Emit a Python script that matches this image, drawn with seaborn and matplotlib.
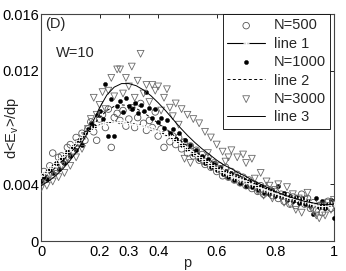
import numpy as np
import pandas as pd
import matplotlib
matplotlib.use("Agg")
import matplotlib.pyplot as plt
import seaborn as sns

# ---------------- data (y values in units of 1e-3) ----------------
p_pts = [round(i * 0.01, 2) for i in range(101)]

n500 = [4.3, 4.9, 4.6, 5.3, 6.2, 5.2, 5.9, 6.0, 5.6, 6.6,
        6.8, 6.3, 7.3, 6.9, 7.6, 7.1, 7.9, 8.4, 7.7, 7.1,
        8.6, 8.9, 8.0, 9.3, 6.6, 8.7, 9.0, 8.5, 9.2, 8.1,
        8.6, 9.4, 8.0, 8.7, 9.7, 8.3, 7.8, 8.5, 8.0, 9.1,
        7.4, 7.9, 6.6, 7.6, 7.0, 7.4, 6.8, 7.3, 6.5, 7.0,
        6.2, 6.7, 6.0, 6.4, 5.7, 6.1, 5.4, 5.9, 5.2, 5.5,
        4.9, 5.3, 4.6, 5.2, 4.5, 4.9, 4.3, 4.7, 4.1, 4.5,
        3.9, 4.3, 3.7, 4.0, 3.5, 3.9, 3.3, 3.7, 3.6, 3.2,
        3.5, 3.0, 3.3, 2.8, 3.2, 2.6, 3.1, 2.5, 2.9, 3.3,
        2.6, 3.0, 2.3, 2.7, 2.2, 2.5, 2.0, 2.4, 2.8, 2.3,
        2.7]

n1000 = [4.2, 4.5, 4.4, 5.0, 4.8, 5.5, 5.1, 5.8, 5.5, 6.3,
         6.0, 6.6, 6.4, 7.1, 6.8, 7.6, 7.9, 8.3, 8.1, 8.9,
         9.2, 8.6, 11.1, 7.4, 10.0, 7.4, 9.5, 9.9, 9.1, 10.1,
         9.5, 9.3, 9.7, 9.0, 9.6, 9.2, 10.5, 9.4, 8.7, 9.3,
         8.4, 8.7, 8.0, 8.5, 7.6, 7.9, 7.2, 7.6, 6.8, 7.1,
         6.5, 6.8, 6.1, 6.4, 5.8, 6.0, 5.5, 5.8, 5.2, 5.5,
         5.0, 5.2, 4.7, 4.9, 4.5, 4.8, 4.3, 4.6, 4.1, 4.4,
         3.9, 4.2, 3.8, 4.0, 3.6, 3.9, 3.4, 3.7, 3.3, 3.6,
         3.2, 3.9, 3.1, 3.4, 2.9, 3.2, 2.8, 3.1, 2.7, 3.0,
         2.6, 2.8, 2.5, 1.9, 3.0, 2.4, 2.8, 2.3, 2.6, 2.9,
         1.6]

n3000 = [3.7, 4.3, 3.9, 4.6, 4.2, 4.9, 4.5, 5.3, 4.8, 5.8,
         5.3, 6.2, 5.9, 6.9, 6.5, 7.4, 7.9, 8.6, 10.1, 8.9,
         9.6, 10.5, 9.3, 10.6, 11.5, 10.2, 12.1, 12.1, 10.4, 11.5,
         10.9, 12.3, 10.1, 11.3, 13.2, 10.4, 11.0, 9.8, 11.0, 10.6,
         10.9, 9.2, 10.1, 10.7, 9.4, 8.8, 9.7, 8.2, 9.3, 5.8,
         8.9, 5.5, 8.6, 6.0, 8.3, 5.6, 7.7, 6.2, 7.3, 5.3,
         6.8, 5.0, 6.3, 5.6, 5.9, 6.4, 4.6, 5.9, 4.3, 6.1,
         5.5, 3.9, 5.8, 4.4, 3.5, 4.8, 3.2, 4.2, 3.9, 3.0,
         3.6, 4.0, 3.1, 2.7, 3.8, 2.6, 3.3, 2.2, 3.0, 2.0,
         2.9, 3.4, 2.4, 2.1, 1.8, 1.6, 2.5, 1.8, 2.7, 2.2,
         2.9]

line1 = [4.60, 4.78, 4.96, 5.14, 5.32, 5.50, 5.70, 5.90, 6.10, 6.30,
         6.50, 6.70, 6.90, 7.10, 7.30, 7.50, 7.66, 7.82, 7.96, 8.08,
         8.18, 8.25, 8.30, 8.33, 8.35, 8.36, 8.37, 8.37, 8.36, 8.34,
         8.31, 8.28, 8.24, 8.20, 8.15, 8.10, 8.04, 7.98, 7.91, 7.85,
         7.78, 7.66, 7.54, 7.42, 7.30, 7.18, 7.04, 6.90, 6.76, 6.62,
         6.48, 6.34, 6.20, 6.06, 5.92, 5.78, 5.64, 5.50, 5.36, 5.22,
         5.10, 5.00, 4.90, 4.80, 4.70, 4.60, 4.52, 4.44, 4.36, 4.28,
         4.20, 4.11, 4.02, 3.93, 3.84, 3.75, 3.67, 3.59, 3.51, 3.43,
         3.36, 3.30, 3.24, 3.18, 3.12, 3.06, 3.01, 2.96, 2.91, 2.86,
         2.81, 2.75, 2.69, 2.62, 2.55, 2.50, 2.48, 2.50, 2.54, 2.58,
         2.62]

p_line = [round(i * 0.025, 3) for i in range(41)]
line2 = [4.3, 4.7, 5.2, 5.7, 6.2, 6.8, 7.4, 8.1, 8.7, 9.2,
         9.5, 9.6, 9.55, 9.35, 9.05, 8.7, 8.3, 7.9, 7.5, 7.1,
         6.7, 6.35, 6.0, 5.7, 5.4, 5.1, 4.85, 4.6, 4.35, 4.1,
         3.85, 3.65, 3.45, 3.25, 3.1, 2.95, 2.8, 2.7, 2.6, 2.55,
         2.6]
line3 = [3.9, 4.2, 4.6, 5.1, 5.7, 6.4, 7.3, 8.3, 9.4, 10.3,
         10.85, 11.1, 11.1, 10.95, 10.65, 10.25, 9.75, 9.2, 8.6, 8.0,
         7.45, 6.95, 6.5, 6.1, 5.7, 5.35, 5.1, 4.8, 4.55, 4.25,
         4.0, 3.75, 3.5, 3.3, 3.1, 2.95, 2.8, 2.7, 2.6, 2.55,
         2.6]

x_ticks = [0, 0.2, 0.3, 0.4, 0.6, 0.8, 1]
x_tick_labels = ["0", "0.2", "0.3", "0.4", "0.6", "0.8", "1"]
y_ticks = [0, 0.004, 0.012, 0.016]
y_tick_labels = ["0", "0.004", "0.012", "0.016"]

# ---------------- plotting ----------------
sns.set_style("white")
plt.rcParams["font.family"] = ["Liberation Sans", "DejaVu Sans"]
plt.rcParams["mathtext.fontset"] = "custom"
plt.rcParams["mathtext.rm"] = "Liberation Sans"
plt.rcParams["mathtext.it"] = "Liberation Sans"

scale = 1e-3
df_pts = pd.DataFrame({"p": p_pts,
                       "n500": np.array(n500) * scale,
                       "n1000": np.array(n1000) * scale,
                       "n3000": np.array(n3000) * scale,
                       "line1": np.array(line1) * scale})
df_line = pd.DataFrame({"p": p_line,
                        "line2": np.array(line2) * scale,
                        "line3": np.array(line3) * scale})

fig = plt.figure(figsize=(3.46, 2.71), dpi=100)
ax = fig.add_axes([0.1185, 0.1107, 0.8465, 0.8373])

fs = 10.5
sns.scatterplot(data=df_pts, x="p", y="n500", ax=ax, marker="o", s=22,
                facecolor="none", edgecolor="#555555", linewidth=0.6,
                label="N=500", zorder=3)
sns.lineplot(data=df_pts, x="p", y="line1", ax=ax, color="black", lw=0.8,
             marker="+", markersize=4.5, markeredgewidth=0.6,
             label="line 1", zorder=4)
sns.scatterplot(data=df_pts, x="p", y="n1000", ax=ax, marker="o", s=9,
                color="black", edgecolor="black", linewidth=0.3,
                label="N=1000", zorder=3)
sns.lineplot(data=df_line, x="p", y="line2", ax=ax, color="black", lw=0.7,
             linestyle=(0, (3, 2.5)), label="line 2", zorder=4)
sns.scatterplot(data=df_pts, x="p", y="n3000", ax=ax, marker="v", s=24,
                facecolor="none", edgecolor="#6a6a6a", linewidth=0.6,
                label="N=3000", zorder=3)
sns.lineplot(data=df_line, x="p", y="line3", ax=ax, color="black", lw=0.7,
             label="line 3", zorder=4)

ax.set_xlim(0, 1)
ax.set_ylim(0, 0.016)
ax.set_xticks(x_ticks)
ax.set_xticklabels(x_tick_labels)
ax.set_yticks(y_ticks)
ax.set_yticklabels(y_tick_labels)
ax.tick_params(direction="in", length=3, width=0.6, labelsize=fs,
               top=True, right=True, pad=1.5, colors="black")
ax.tick_params(axis="x", pad=3)
for s in ax.spines.values():
    s.set_color("#444444")
    s.set_linewidth(0.8)
    s.set_visible(True)

ax.set_xlabel("p", fontsize=fs, labelpad=-2)
ax.set_ylabel(r"d<E$_{\mathrm{v}}$>/dp", fontsize=fs, va="center")
ax.yaxis.set_label_coords(-0.098, 0.5)

ax.text(0.015, 0.985, "(D)", transform=ax.transAxes, fontsize=fs,
        ha="left", va="top")
ax.text(0.05, 0.86, "W=10", transform=ax.transAxes, fontsize=fs,
        ha="left", va="top")

leg = ax.legend(loc="upper right", fontsize=fs, frameon=True, fancybox=False,
                borderaxespad=0.0, bbox_to_anchor=(0.988, 1.0),
                handlelength=2.6, handletextpad=0.6, labelspacing=0.3,
                borderpad=0.3, markerscale=1.0, numpoints=1, scatterpoints=1)
leg.get_frame().set_edgecolor("black")
leg.get_frame().set_linewidth(0.6)
leg.get_frame().set_alpha(1)

fig.savefig("out.png", dpi=100)
